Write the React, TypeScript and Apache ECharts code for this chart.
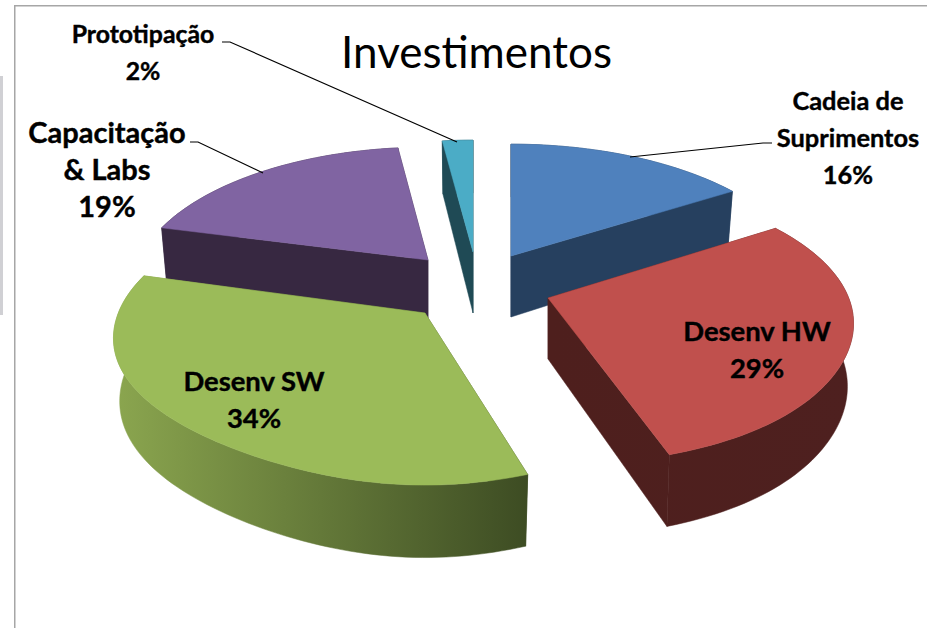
import React, { useEffect, useRef } from "react";
import * as echarts from "echarts";

const titleText = "Investimentos";
const categories = ["Cadeia de\nSuprimentos", "Desenv HW", "Desenv SW", "Capacitação\n& Labs", "Prototipação"];
const values = [16, 29, 34, 19, 2];
const topColors = ["#4f81bd", "#c0504d", "#9bbb59", "#8064a2", "#4bacc6"];
const wallColors = [
  ["#26405f", "#26405f"],
  ["#4e1f1d", "#4e201f"],
  ["#8ba64f", "#3d4c23"],
  ["#372841", "#372841"],
  ["#1f4a55", "#1f4a55"],
];
// Exploded apex, rim centre, radius and vertical radius of each slice on the page,
// with a width correction toward the viewer
const apexX = [511, 548, 425, 428, 473];
const apexY = [256, 298, 313, 260, 252];
const rimY = [257, 294, 309, 260, 253];
const radii = [291, 299, 305, 289, 295];
const vertical = [136, 136, 140, 136, 136];
const frontWidth = [0, 0.07, -0.15, 0, 0];
const stackOrder = [0, 3, 4, 1, 2];
// Label layout: centre x, first-line centre y, font size
const labelX = [848, 757, 254, 107, 143];
const labelY = [100, 330.5, 380.5, 131.5, 33];
const labelSize = [25.4, 27.4, 27.4, 29, 24.8];
const leaders = [
  [[772, 143], [763, 143], [630, 157]],
  null,
  null,
  [[190, 142], [198, 142], [263, 173]],
  [[222, 42], [230, 42], [457, 142]],
];

const PERSP = 0.205;
const DEPTH = 61;
const FONT = "Lato, 'Noto Sans', sans-serif";
const total = values.reduce((a, b) => a + b, 0);

function renderItem(params: any, api: any) {
  const i = params.dataIndex;
  const v = api.value(0);
  const before = values.slice(0, i).reduce((a, b) => a + b, 0);
  const a0 = (before / total) * Math.PI * 2;
  const a1 = ((before + v) / total) * Math.PI * 2;
  const cx = apexX[i];
  const cy = apexY[i];
  const ry = rimY[i];
  const R = radii[i];
  const V = vertical[i];
  const hor = (a: number) => {
    const c = Math.cos(a);
    const s = 1 / (1 + PERSP * c);
    const front = c < 0 ? c * c * c * c : 0;
    return R * Math.sin(a) * s * (1 + frontWidth[i] * front);
  };
  const top = (a: number) => {
    const s = 1 / (1 + PERSP * Math.cos(a));
    return [cx + hor(a), ry - V * Math.cos(a) * s];
  };
  const bot = (a: number) => {
    const s = 1 / (1 + PERSP * Math.cos(a));
    return [cx + 0.98 * hor(a), ry - V * Math.cos(a) * s + DEPTH * Math.pow(s, 0.75)];
  };
  const n = Math.max(8, Math.ceil((a1 - a0) * 40));
  const arcTop: number[][] = [];
  const arcBot: number[][] = [];
  for (let k = 0; k <= n; k++) {
    const a = a0 + ((a1 - a0) * k) / n;
    arcTop.push(top(a));
    arcBot.push(bot(a));
  }
  const xs = arcBot.concat(arcTop).map((p) => p[0]);
  const minX = Math.min(...xs, cx);
  const maxX = Math.max(...xs, cx);
  const wall = new echarts.graphic.LinearGradient(
    minX, 0, maxX, 0,
    [{ offset: 0, color: wallColors[i][0] }, { offset: 1, color: wallColors[i][1] }],
    true
  );
  const base = stackOrder.indexOf(i) * 10;
  const apexB = [cx, cy + DEPTH];
  const poly = (points: number[][], fill: any, z: number) => ({
    type: "polygon",
    z2: base + z,
    shape: { points },
    style: { fill, stroke: fill, lineWidth: 0.5 },
  });
  const children: any[] = [
    poly([[cx, cy], arcTop[0], arcBot[0], apexB], wall, 1),
    poly([[cx, cy], arcTop[n], arcBot[n], apexB], wall, 1),
    poly(arcTop.concat(arcBot.slice().reverse()), wall, 2),
    poly([[cx, cy], ...arcTop], topColors[i], 3),
  ];
  const lines = (categories[i] + "\n" + v + "%").split("\n");
  lines.forEach((t, k) => {
    children.push({
      type: "text",
      z2: 200,
      style: {
        text: t,
        x: labelX[i],
        y: labelY[i] + k * 37,
        textAlign: "center",
        textVerticalAlign: "middle",
        font: `bold ${labelSize[i]}px ${FONT}`,
        fill: "#000",
        stroke: "#000",
        lineWidth: 0.4,
      },
    });
  });
  const leader = leaders[i];
  if (leader) {
    children.push({
      type: "polyline",
      z2: 190,
      shape: { points: leader },
      style: { stroke: "#000", lineWidth: 1.2, fill: "none" },
    });
  }
  return { type: "group", children };
}

export default function App() {
  const ref = useRef<HTMLDivElement>(null);
  useEffect(() => {
    const chart = echarts.init(ref.current!, null, { renderer: "svg" });
    chart.setOption({
      animation: false,
      backgroundColor: "#fff",
      title: {
        text: titleText,
        left: 471.5,
        top: 46,
        textAlign: "center",
        textVerticalAlign: "middle",
        textStyle: { fontFamily: FONT, fontSize: 44, fontWeight: "normal", color: "#000" },
      },
      series: [
        {
          type: "custom",
          coordinateSystem: "none",
          renderItem,
          data: values.map((v, i) => ({ name: categories[i], value: [v] })),
          silent: true,
        },
      ],
      graphic: [
        { type: "rect", shape: { x: 0, y: 76, width: 3, height: 239 }, style: { fill: "#d0d0d4" } },
        { type: "rect", shape: { x: 14, y: 5, width: 913, height: 1.5 }, style: { fill: "#a6a6a6" } },
        { type: "rect", shape: { x: 14, y: 5, width: 1.5, height: 623 }, style: { fill: "#a6a6a6" } },
      ],
    });
    return () => chart.dispose();
  }, []);
  return <div ref={ref} style={{ position: "fixed", left: 0, top: 0, width: 927, height: 628 }} />;
}
